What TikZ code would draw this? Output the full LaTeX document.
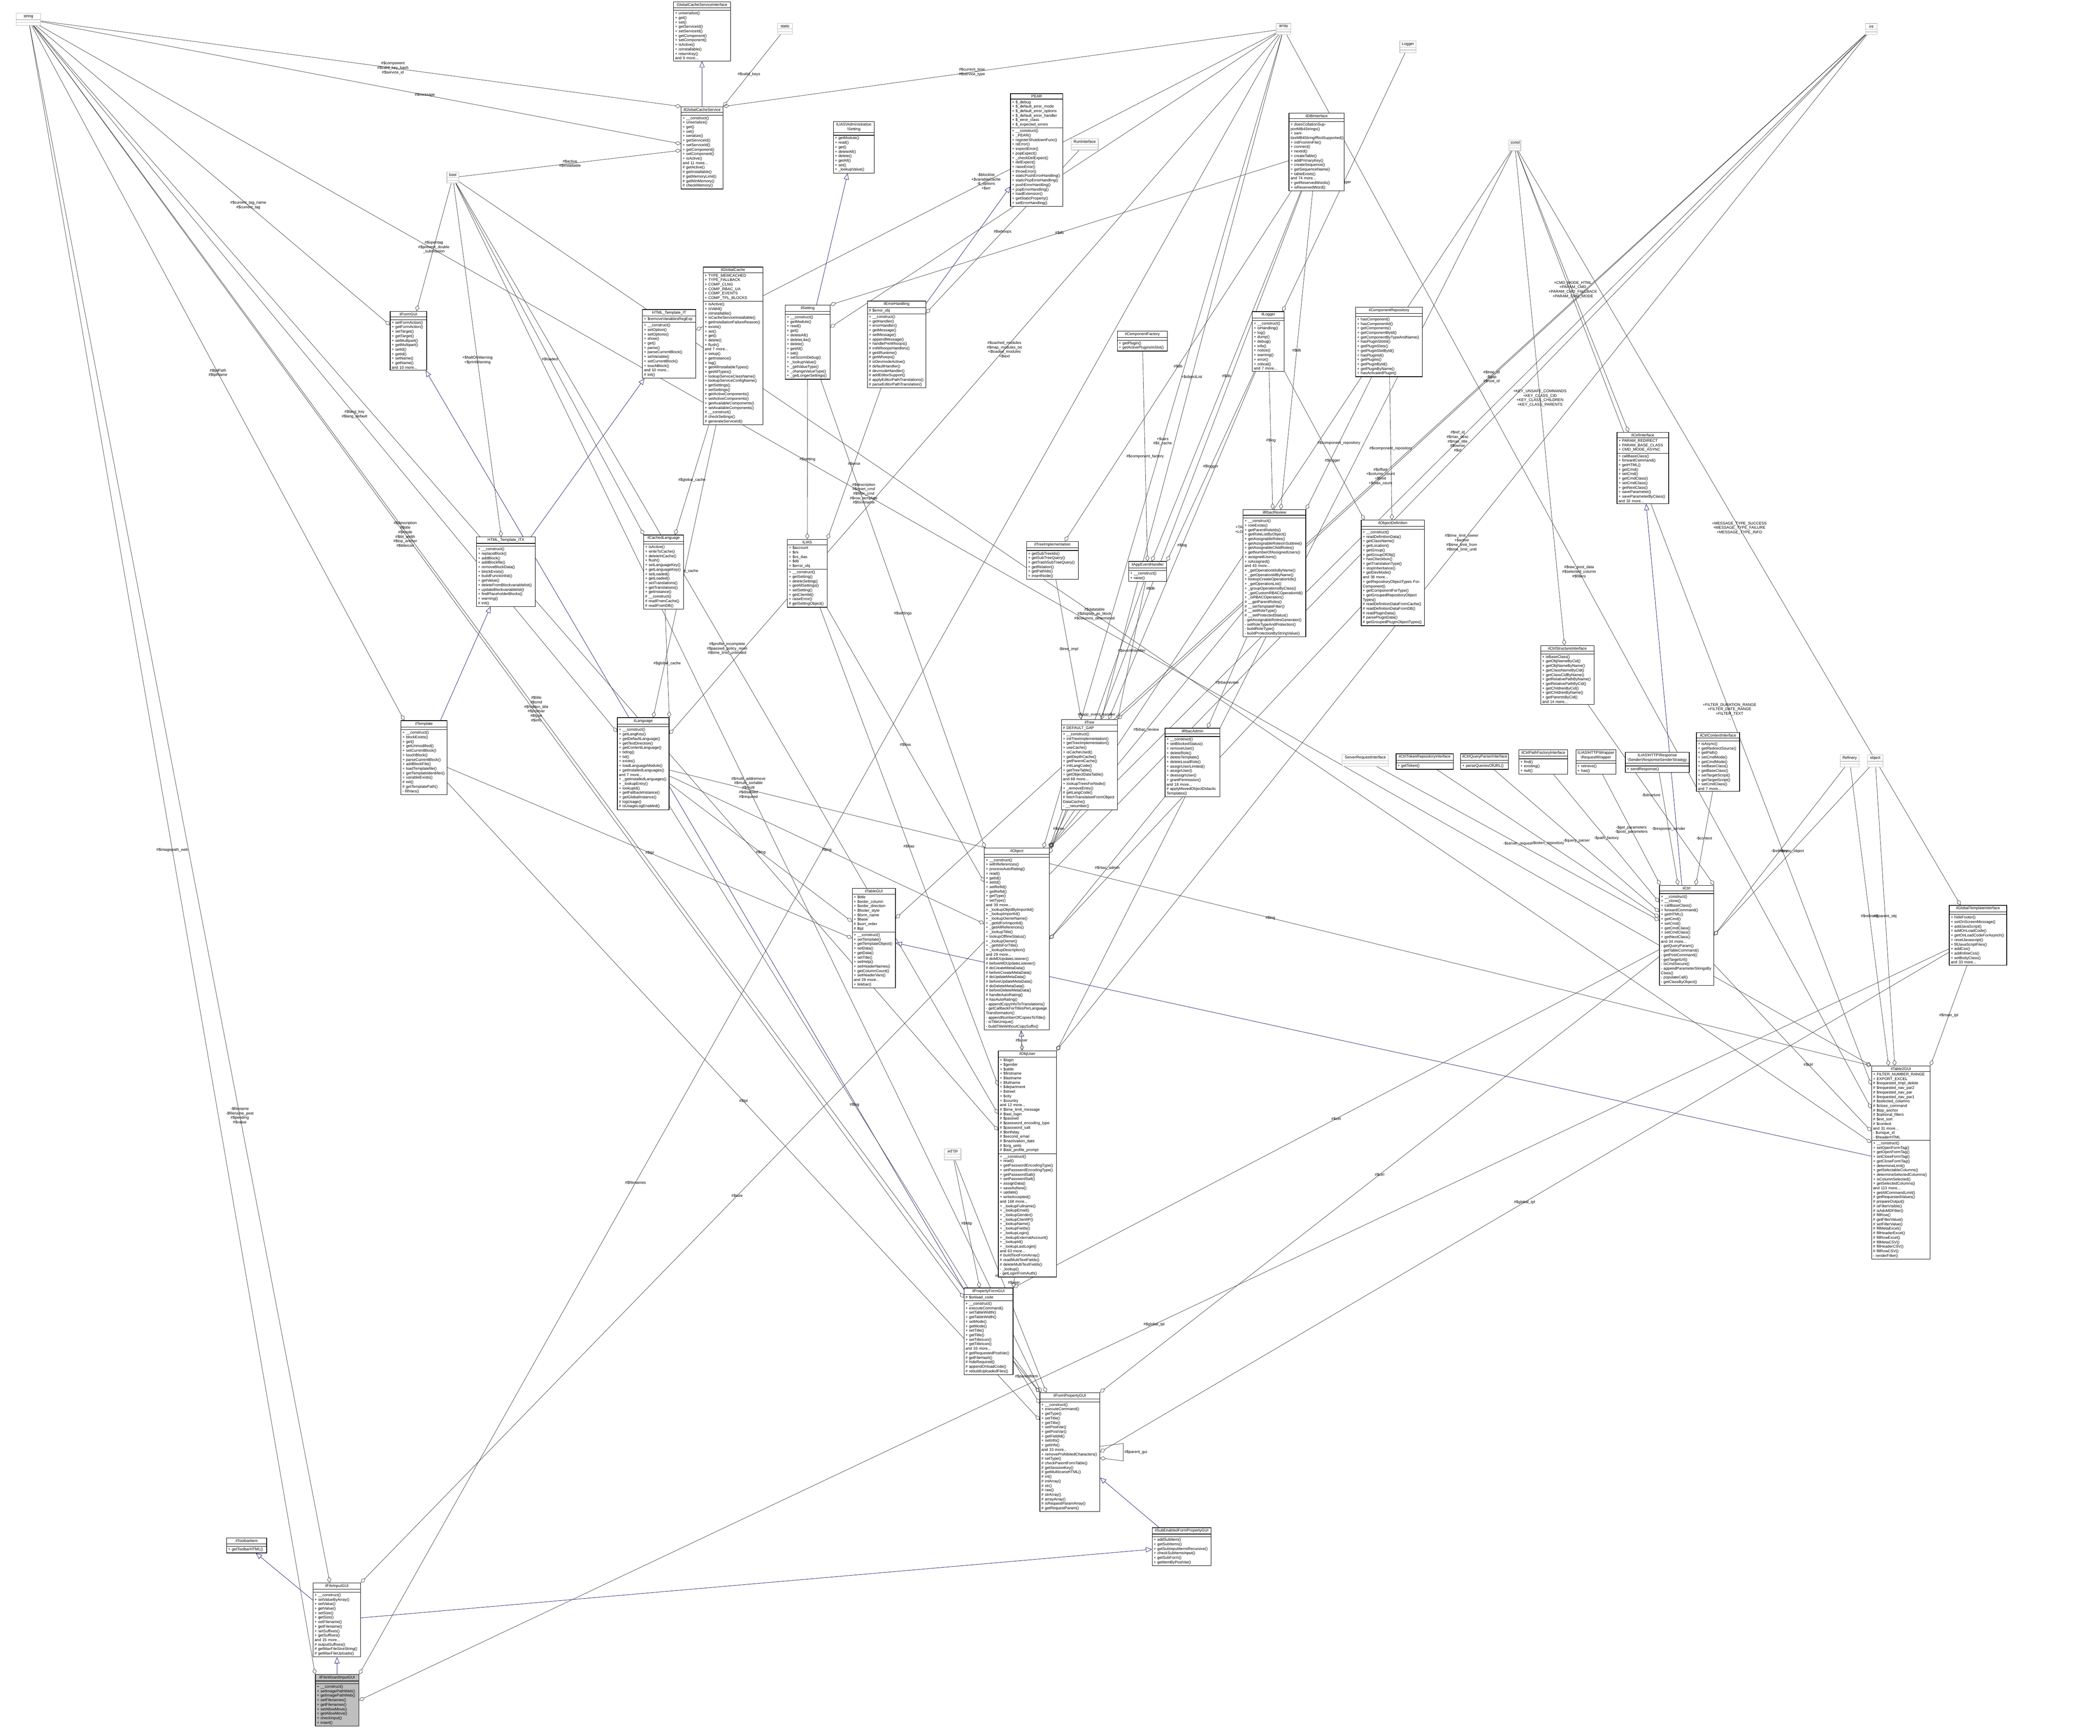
\documentclass[tikz,border=0pt]{standalone}
\usepackage{fontspec}
\setmainfont{Liberation Sans}
\usetikzlibrary{shapes.multipart,arrows.meta}
\pgfdeclarelayer{background}
\pgfsetlayers{background,main}
\definecolor{edgegray}{HTML}{404040}
\definecolor{inhblue}{HTML}{191970}
\definecolor{primgray}{HTML}{BFBFBF}
\tikzset{
  cls/.style={rectangle split, rectangle split parts=3, draw=black, fill=white,
    font=\fontsize{3.8}{4.4}\selectfont, align=left, inner xsep=1.5pt, inner ysep=1.1pt,
    anchor=north west, line width=0.5pt},
  curcls/.style={cls, fill=black!25},
  prim/.style={cls, draw=primgray},
  use/.style={draw=edgegray, line width=0.35pt, -{Diamond[open,length=6pt,width=4pt]}},
  inh/.style={draw=inhblue, line width=0.35pt, -{Triangle[open,length=6pt,width=5pt]}},
  lbl/.style={font=\fontsize{3.8}{4.4}\selectfont, align=center, fill=none, inner sep=1pt}
}
\newcommand{\ttl}[1]{{\centering #1\par}}
\begin{document}
\begin{tikzpicture}
\useasboundingbox (0,0) rectangle (72.17,-59.67);

% primitive types
\node[prim, text width=0.73cm] (string) at (0.55,-0.45) {\nodepart{one}\ttl{string}\nodepart{two}\mbox{}\nodepart{three}\mbox{}};
\node[prim, text width=0.40cm] (static) at (26.72,-0.79) {\nodepart{one}\ttl{static}\nodepart{two}\mbox{}\nodepart{three}\mbox{}};
\node[prim, text width=0.40cm] (array) at (43.85,-0.80) {\nodepart{one}\ttl{array}\nodepart{two}\mbox{}\nodepart{three}\mbox{}};
\node[prim, text width=0.30cm] (int) at (64.10,-0.80) {\nodepart{one}\ttl{int}\nodepart{two}\mbox{}\nodepart{three}\mbox{}};
\node[prim, text width=0.30cm] (bool) at (15.35,-5.90) {\nodepart{one}\ttl{bool}\nodepart{two}\mbox{}\nodepart{three}\mbox{}};
\node[prim, text width=0.30cm] (const) at (51.85,-4.80) {\nodepart{one}\ttl{const}\nodepart{two}\mbox{}\nodepart{three}\mbox{}};
\node[prim, text width=0.45cm] (Logger) at (48.10,-1.40) {\nodepart{one}\ttl{Logger}\nodepart{two}\mbox{}\nodepart{three}\mbox{}};
\node[prim, text width=0.83cm] (RunInterface) at (36.80,-4.76) {\nodepart{one}\ttl{RunInterface}\nodepart{two}\mbox{}\nodepart{three}\mbox{}};
\node[prim, text width=0.46cm] (HTTP) at (32.45,-39.48) {\nodepart{one}\ttl{HTTP}\nodepart{two}\mbox{}\nodepart{three}\mbox{}};
\node[prim, text width=1.48cm] (ServerRequestInterface) at (46.12,-25.92) {\nodepart{one}\ttl{ServerRequestInterface}\nodepart{two}\mbox{}\nodepart{three}\mbox{}};
\node[prim, text width=0.55cm] (Refinery) at (63.23,-25.94) {\nodepart{one}\ttl{Refinery}\nodepart{two}\mbox{}\nodepart{three}\mbox{}};
\node[prim, text width=0.43cm] (object) at (64.17,-25.94) {\nodepart{one}\ttl{object}\nodepart{two}\mbox{}\nodepart{three}\mbox{}};

% top row classes
\node[cls, text width=1.85cm] (GlobalCacheServiceInterface) at (23.14,-0.06) {\nodepart{one}\ttl{GlobalCacheServiceInterface}\nodepart{two}\mbox{}\nodepart{three}+ unserialize()\\+ get()\\+ set()\\+ getServiceId()\\+ setServiceId()\\+ getComponent()\\+ setComponent()\\+ isActive()\\+ isInstallable()\\+ returnKey()\\and 9 more...};
\node[cls, text width=1.33cm] (ilGlobalCacheService) at (23.40,-3.66) {\nodepart{one}\ttl{ilGlobalCacheService}\nodepart{two}\mbox{}\nodepart{three}+ \_\_construct()\\+ unserialize()\\+ get()\\+ set()\\+ serialize()\\+ getServiceId()\\+ setServiceId()\\+ getComponent()\\+ setComponent()\\+ isActive()\\and 11 more...\\\# getActive()\\\# getInstallable()\\\# getMemoryLimit()\\\# getMinMemory()\\\# checkMemory()};
\node[cls, text width=1.30cm] (Setting) at (28.63,-4.17) {\nodepart{one}\ttl{ILIAS\textbackslash Administration\\\textbackslash Setting}\nodepart{two}\mbox{}\nodepart{three}+ getModule()\\+ read()\\+ get()\\+ deleteAll()\\+ delete()\\+ getAll()\\+ set()\\+ \_lookupValue()};
\node[cls, text width=1.69cm] (PEAR) at (34.72,-3.21) {\nodepart{one}\ttl{PEAR}\nodepart{two}+ \$\_debug\\+ \$\_default\_error\_mode\\+ \$\_default\_error\_options\\+ \$\_default\_error\_handler\\+ \$\_error\_class\\+ \$\_expected\_errors\nodepart{three}+ \_\_construct()\\+ \_PEAR()\\+ registerShutdownFunc()\\+ isError()\\+ expectError()\\+ popExpect()\\+ \_checkDelExpect()\\+ delExpect()\\+ raiseError()\\+ throwError()\\+ staticPushErrorHandling()\\+ staticPopErrorHandling()\\+ pushErrorHandling()\\+ popErrorHandling()\\+ loadExtension()\\+ getStaticProperty()\\+ setErrorHandling()};
\node[cls, text width=1.79cm] (ilDBInterface) at (44.29,-3.88) {\nodepart{one}\ttl{ilDBInterface}\nodepart{two}\mbox{}\nodepart{three}+ doesCollationSupportMB4Strings()\\+ sanitizeMB4StringIfNotSupported()\\+ initFromIniFile()\\+ connect()\\+ nextId()\\+ createTable()\\+ addPrimaryKey()\\+ createSequence()\\+ getSequenceName()\\+ tableExists()\\and 74 more...\\+ getReservedWords()\\+ isReservedWord()};

% second row
\node[cls, text width=1.15cm] (ilFormGUI) at (13.40,-10.69) {\nodepart{one}\ttl{ilFormGUI}\nodepart{two}\mbox{}\nodepart{three}+ setFormAction()\\+ getFormAction()\\+ setTarget()\\+ getTarget()\\+ setMultipart()\\+ getMultipart()\\+ setId()\\+ getId()\\+ setName()\\+ getName()\\and 10 more...};
\node[cls, text width=1.73cm] (HTML_Template_IT) at (22.07,-10.63) {\nodepart{one}\ttl{HTML\_Template\_IT}\nodepart{two}+ \$removeVariablesRegExp\nodepart{three}+ \_\_construct()\\+ setOption()\\+ setOptions()\\+ show()\\+ get()\\+ parse()\\+ parseCurrentBlock()\\+ setVariable()\\+ setCurrentBlock()\\+ touchBlock()\\and 10 more...\\\# init()};
\node[cls, text width=1.94cm] (ilGlobalCache) at (24.16,-9.17) {\nodepart{one}\ttl{ilGlobalCache}\nodepart{two}+ TYPE\_MEMCACHED\\+ TYPE\_FALLBACK\\+ COMP\_CLNG\\+ COMP\_RBAC\_UA\\+ COMP\_EVENTS\\+ COMP\_TPL\_BLOCKS\nodepart{three}+ isActive()\\+ isValid()\\+ isInstallable()\\+ isCacheServiceInstallable()\\+ getInstallationFailureReason()\\+ exists()\\+ set()\\+ get()\\+ delete()\\+ flush()\\and 7 more...\\+ setup()\\+ getInstance()\\+ log()\\+ getAllInstallableTypes()\\+ getAllTypes()\\+ lookupServiceClassName()\\+ lookupServiceConfigName()\\+ getSettings()\\+ setSettings()\\+ getActiveComponents()\\+ setActiveComponents()\\+ getAvailableComponents()\\+ setAvailableComponents()\\\# \_\_construct()\\\# checkSettings()\\\# generateServiceId()};
\node[cls, text width=1.43cm] (ilSetting) at (26.98,-10.48) {\nodepart{one}\ttl{ilSetting}\nodepart{two}\mbox{}\nodepart{three}+ \_\_construct()\\+ getModule()\\+ read()\\+ get()\\+ deleteAll()\\+ deleteLike()\\+ delete()\\+ getAll()\\+ set()\\+ setScormDebug()\\+ \_lookupValue()\\+ \_getValueType()\\+ \_changeValueType()\\+ \_getLongerSettings()};
\node[cls, text width=1.90cm] (ilErrorHandling) at (29.80,-10.34) {\nodepart{one}\ttl{ilErrorHandling}\nodepart{two}\# \$error\_obj\nodepart{three}+ \_\_construct()\\+ getHandler()\\+ errorHandler()\\+ getMessage()\\+ setMessage()\\+ appendMessage()\\+ handlePreWhoops()\\\# initWhoopsHandlers()\\\# getIlRuntime()\\\# getWhoops()\\\# isDevmodeActive()\\\# defaultHandler()\\\# devmodeHandler()\\\# addEditorSupport()\\\# applyEditorPathTranslations()\\\# parseEditorPathTranslation()};
\node[cls, text width=1.62cm] (ilComponentFactory) at (38.39,-11.37) {\nodepart{one}\ttl{ilComponentFactory}\nodepart{two}\mbox{}\nodepart{three}+ getPlugin()\\+ getActivePluginsInSlot()};
\node[cls, text width=0.99cm] (ilLogger) at (43.03,-10.70) {\nodepart{one}\ttl{ilLogger}\nodepart{two}\mbox{}\nodepart{three}+ \_\_construct()\\+ isHandling()\\+ log()\\+ dump()\\+ debug()\\+ info()\\+ notice()\\+ warning()\\+ error()\\+ critical()\\and 7 more...};
\node[cls, text width=2.19cm] (ilComponentRepository) at (46.58,-10.55) {\nodepart{one}\ttl{ilComponentRepository}\nodepart{two}\mbox{}\nodepart{three}+ hasComponent()\\+ hasComponentId()\\+ getComponents()\\+ getComponentById()\\+ getComponentByTypeAndName()\\+ hasPluginSlotId()\\+ getPluginSlots()\\+ getPluginSlotById()\\+ hasPluginId()\\+ getPlugins()\\+ getPluginById()\\+ getPluginByName()\\+ hasActivatedPlugin()};
\node[cls, text width=1.67cm] (ilCtrlInterface) at (55.56,-14.85) {\nodepart{one}\ttl{ilCtrlInterface}\nodepart{two}+ PARAM\_REDIRECT\\+ PARAM\_BASE\_CLASS\\+ CMD\_MODE\_ASYNC\nodepart{three}+ callBaseClass()\\+ forwardCommand()\\+ getHTML()\\+ getCmd()\\+ setCmd()\\+ getCmdClass()\\+ setCmdClass()\\+ getNextClass()\\+ saveParameter()\\+ saveParameterByClass()\\and 32 more...};

% third row
\node[cls, text width=1.91cm] (HTML_Template_ITX) at (16.37,-18.45) {\nodepart{one}\ttl{HTML\_Template\_ITX}\nodepart{two}\mbox{}\nodepart{three}+ \_\_construct()\\+ replaceBlock()\\+ addBlock()\\+ addBlockfile()\\+ removeBlockData()\\+ blockExists()\\+ buildFunctionlist()\\+ getValue()\\+ deleteFromBlockvariablelist()\\+ updateBlockvariablelist()\\+ findPlaceholderBlocks()\\+ warning()\\\# init()};
\node[cls, text width=1.27cm] (ilCachedLanguage) at (22.11,-18.38) {\nodepart{one}\ttl{ilCachedLanguage}\nodepart{two}\mbox{}\nodepart{three}+ isActive()\\+ writeToCache()\\+ deleteInCache()\\+ flush()\\+ setLanguageKey()\\+ getLanguageKey()\\+ setLoaded()\\+ getLoaded()\\+ setTranslations()\\+ getTranslations()\\+ getInstance()\\\# \_\_construct()\\\# readFromCache()\\\# readFromDB()};
\node[cls, text width=1.26cm] (ILIAS) at (27.05,-18.53) {\nodepart{one}\ttl{ILIAS}\nodepart{two}+ \$account\\+ \$ini\\+ \$ini\_ilias\\+ \$db\\+ \$error\_obj\nodepart{three}+ \_\_construct()\\+ getSetting()\\+ deleteSetting()\\+ getAllSettings()\\+ setSetting()\\+ getClientId()\\+ raiseError()\\\# getSettingObject()};
\node[cls, text width=1.67cm] (ilTreeImplementation) at (35.27,-18.60) {\nodepart{one}\ttl{ilTreeImplementation}\nodepart{two}\mbox{}\nodepart{three}+ getSubTreeIds()\\+ getSubTreeQuery()\\+ getTrashSubTreeQuery()\\+ getRelation()\\+ getPathIds()\\+ insertNode()};
\node[cls, text width=1.20cm] (ilAppEventHandler) at (38.78,-19.29) {\nodepart{one}\ttl{ilAppEventHandler}\nodepart{two}\mbox{}\nodepart{three}+ \_\_construct()\\+ raise()};
\node[cls, text width=2.05cm] (ilRbacReview) at (42.71,-17.51) {\nodepart{one}\ttl{ilRbacReview}\nodepart{two}\mbox{}\nodepart{three}+ \_\_construct()\\+ roleExists()\\+ getParentRoleIds()\\+ getRoleListByObject()\\+ getAssignableRoles()\\+ getAssignableRolesInSubtree()\\+ getAssignableChildRoles()\\+ getNumberOfAssignedUsers()\\+ assignedUsers()\\+ isAssigned()\\and 43 more...\\+ \_getOperationIdsByName()\\+ \_getOperationIdByName()\\+ lookupCreateOperationIds()\\+ \_getOperationList()\\+ \_groupOperationsByClass()\\+ \_getCustomRBACOperationId()\\+ \_isRBACOperation()\\\# \_\_getParentRoles()\\\# \_\_setTemplateFilter()\\\# \_\_setRoleType()\\\# \_\_setProtectedStatus()\\- getAssignableRolesGenerator()\\- setRoleTypeAndProtection()\\- buildRoleType()\\- buildProtectionByStringValue()};
\node[cls, text width=2.07cm] (ilObjectDefinition) at (46.77,-17.87) {\nodepart{one}\ttl{ilObjectDefinition}\nodepart{two}\mbox{}\nodepart{three}+ \_\_construct()\\+ readDefinitionData()\\+ getClassName()\\+ getLocation()\\+ getGroup()\\+ getGroupOfObj()\\+ hasCheckbox()\\+ getTranslationType()\\+ stopInheritance()\\+ getDevMode()\\and 38 more...\\+ getRepositoryObjectTypes ForComponent()\\+ getComponentForType()\\+ getGroupedRepositoryObject Types()\\\# readDefinitionDataFromCache()\\\# readDefinitionDataFromDB()\\\# readPluginData()\\\# parsePluginData()\\\# getGroupedPluginObjectTypes()};
\node[cls, text width=1.73cm] (ilCtrlStructureInterface) at (52.94,-22.18) {\nodepart{one}\ttl{ilCtrlStructureInterface}\nodepart{two}\mbox{}\nodepart{three}+ isBaseClass()\\+ getObjNameByCid()\\+ getObjNameByName()\\+ getClassNameByCid()\\+ getClassCidByName()\\+ getRelativePathByName()\\+ getRelativePathByCid()\\+ getChildrenByCid()\\+ getChildrenByName()\\+ getParentsByCid()\\and 14 more...};

% fourth row
\node[cls, text width=1.48cm] (ilTemplate) at (13.77,-24.76) {\nodepart{one}\ttl{ilTemplate}\nodepart{two}\mbox{}\nodepart{three}+ \_\_construct()\\+ blockExists()\\+ get()\\+ getUnmodified()\\+ setCurrentBlock()\\+ touchBlock()\\+ parseCurrentBlock()\\+ addBlockFile()\\+ loadTemplatefile()\\+ getTemplateIdentifier()\\+ variableExists()\\\# init()\\\# getTemplatePath()\\- fillVars()};
\node[cls, text width=1.67cm] (ilLanguage) at (21.21,-24.66) {\nodepart{one}\ttl{ilLanguage}\nodepart{two}\mbox{}\nodepart{three}+ \_\_construct()\\+ getLangKey()\\+ getDefaultLanguage()\\+ getTextDirection()\\+ getContentLanguage()\\+ txtlng()\\+ txt()\\+ exists()\\+ loadLanguageModule()\\+ getInstalledLanguages()\\and 7 more...\\+ \_getInstalledLanguages()\\+ \_lookupEntry()\\+ lookupId()\\+ getFallbackInstance()\\+ getGlobalInstance()\\\# logUsage()\\\# isUsageLogEnabled()};
\node[cls, text width=1.82cm] (ilTree) at (36.47,-24.72) {\nodepart{one}\ttl{ilTree}\nodepart{two}\# DEFAULT\_GAP\nodepart{three}+ \_\_construct()\\+ initTreeImplementation()\\+ getTreeImplementation()\\+ useCache()\\+ isCacheUsed()\\+ getDepthCache()\\+ getParentCache()\\+ initLangCode()\\+ getTreeTable()\\+ getObjectDataTable()\\and 69 more...\\+ lookupTreesForNode()\\+ \_removeEntry()\\\# getLangCode()\\\# fetchTranslationFromObject DataCache()\\- \_\_renumber()};
\node[cls, text width=1.78cm] (ilRbacAdmin) at (40.03,-25.02) {\nodepart{one}\ttl{ilRbacAdmin}\nodepart{two}\mbox{}\nodepart{three}+ \_\_construct()\\+ setBlockedStatus()\\+ removeUser()\\+ deleteRole()\\+ deleteTemplate()\\+ deleteLocalRole()\\+ assignUserLimited()\\+ assignUser()\\+ deassignUser()\\+ grantPermission()\\and 18 more...\\\# applyMovedObjectDidactic Templates()};
\node[cls, text width=1.86cm] (ilCtrlTokenRepositoryInterface) at (47.97,-25.90) {\nodepart{one}\ttl{ilCtrlTokenRepositoryInterface}\nodepart{two}\mbox{}\nodepart{three}+ getToken()};
\node[cls, text width=1.54cm] (ilCtrlQueryParserInterface) at (50.19,-25.90) {\nodepart{one}\ttl{ilCtrlQueryParserInterface}\nodepart{two}\mbox{}\nodepart{three}+ parseQueriesOfURL()};
\node[cls, text width=1.57cm] (ilCtrlPathFactoryInterface) at (52.19,-25.76) {\nodepart{one}\ttl{ilCtrlPathFactoryInterface}\nodepart{two}\mbox{}\nodepart{three}+ find()\\+ existing()\\+ null()};
\node[cls, text width=1.27cm] (RequestWrapper) at (54.15,-25.76) {\nodepart{one}\ttl{ILIAS\textbackslash HTTP\textbackslash Wrapper\\\textbackslash RequestWrapper}\nodepart{two}\mbox{}\nodepart{three}+ retrieve()\\+ has()};
\node[cls, text width=2.09cm] (ResponseSenderStrategy) at (55.85,-25.85) {\nodepart{one}\ttl{ILIAS\textbackslash HTTP\textbackslash Response\\\textbackslash Sender\textbackslash ResponseSenderStrategy}\nodepart{two}\mbox{}\nodepart{three}+ sendResponse()};
\node[cls, text width=1.38cm] (ilCtrlContextInterface) at (58.29,-25.17) {\nodepart{one}\ttl{ilCtrlContextInterface}\nodepart{two}\mbox{}\nodepart{three}+ isAsync()\\+ getRedirectSource()\\+ getPath()\\+ setCmdMode()\\+ getCmdMode()\\+ setBaseClass()\\+ getBaseClass()\\+ setTargetScript()\\+ getTargetScript()\\+ setCmdClass()\\and 7 more...};

% fifth row
\node[cls, text width=2.13cm] (ilObject) at (33.82,-29.14) {\nodepart{one}\ttl{ilObject}\nodepart{two}\mbox{}\nodepart{three}+ \_\_construct()\\+ withReferences()\\+ processAutoRating()\\+ read()\\+ getId()\\+ setId()\\+ setRefId()\\+ getRefId()\\+ getType()\\+ setType()\\and 39 more...\\+ \_lookupObjIdByImportId()\\+ \_lookupImportId()\\+ \_lookupOwnerName()\\+ \_getIdForImportId()\\+ \_getAllReferences()\\+ \_lookupTitle()\\+ lookupOfflineStatus()\\+ \_lookupOwner()\\+ \_getIdsForTitle()\\+ \_lookupDescription()\\and 29 more...\\\# doMDUpdateListener()\\\# beforeMDUpdateListener()\\\# doCreateMetaData()\\\# beforeCreateMetaData()\\\# doUpdateMetaData()\\\# beforeUpdateMetaData()\\\# doDeleteMetaData()\\\# beforeDeleteMetaData()\\\# handleAutoRating()\\\# hasAutoRating()\\- appendCopyInfoToTranslations()\\- getCallbackForTitlesPerLanguage Transformation()\\- appendNumberOfCopiesToTitle()\\- isTitleUnique()\\- buildTitleWithoutCopySuffix()};
\node[cls, text width=1.38cm] (ilTableGUI) at (29.28,-30.53) {\nodepart{one}\ttl{ilTableGUI}\nodepart{two}+ \$title\\+ \$order\_column\\+ \$order\_direction\\+ \$footer\_style\\+ \$form\_name\\+ \$base\\\# \$sort\_order\\\# \$tpl\nodepart{three}+ \_\_construct()\\+ setTemplate()\\+ getTemplateObject()\\+ setData()\\+ getData()\\+ setTitle()\\+ setHelp()\\+ setHeaderNames()\\+ getColumnCount()\\+ setHeaderVars()\\and 29 more...\\+ linkbar()};
\node[cls, text width=1.76cm] (ilCtrl) at (57.02,-30.42) {\nodepart{one}\ttl{ilCtrl}\nodepart{two}\mbox{}\nodepart{three}+ \_\_construct()\\+ \_\_clone()\\+ callBaseClass()\\+ forwardCommand()\\+ getHTML()\\+ getCmd()\\+ setCmd()\\+ getCmdClass()\\+ setCmdClass()\\+ getNextClass()\\and 34 more...\\- getQueryParam()\\- getTableCommand()\\- getPostCommand()\\- getTargetUrl()\\- isCmdSecure()\\- appendParameterStringsBy Class()\\- populateCall()\\- getClassByObject()};
\node[cls, text width=1.87cm] (ilGlobalTemplateInterface) at (66.98,-31.11) {\nodepart{one}\ttl{ilGlobalTemplateInterface}\nodepart{two}\mbox{}\nodepart{three}+ hideFooter()\\+ setOnScreenMessage()\\+ addJavaScript()\\+ addOnLoadCode()\\+ getOnLoadCodeForAsynch()\\+ resetJavascript()\\+ fillJavaScriptFiles()\\+ addCss()\\+ addInlineCss()\\+ setBodyClass()\\and 33 more...};
\node[cls, text width=1.89cm] (ilObjUser) at (34.30,-36.11) {\nodepart{one}\ttl{ilObjUser}\nodepart{two}+ \$login\\+ \$gender\\+ \$utitle\\+ \$firstname\\+ \$lastname\\+ \$fullname\\+ \$department\\+ \$street\\+ \$city\\+ \$country\\and 12 more...\\\# \$time\_limit\_message\\\# \$last\_login\\\# \$passwd\\\# \$password\_encoding\_type\\\# \$password\_salt\\\# \$birthday\\\# \$second\_email\\\# \$inactivation\_date\\\# \$org\_units\\\# \$last\_profile\_prompt\nodepart{three}+ \_\_construct()\\+ read()\\+ getPasswordEncodingType()\\+ setPasswordEncodingType()\\+ getPasswordSalt()\\+ setPasswordSalt()\\+ assignData()\\+ saveAsNew()\\+ update()\\+ writeAccepted()\\and 168 more...\\+ \_lookupFullname()\\+ \_lookupEmail()\\+ \_lookupGender()\\+ \_lookupClientIP()\\+ \_lookupName()\\+ \_lookupFields()\\+ \_lookupLogin()\\+ \_lookupExternalAccount()\\+ \_lookupId()\\+ \_lookupLastLogin()\\and 63 more...\\\# buildTextFromArray()\\\# readMultiTextFields()\\\# deleteMultiTextFields()\\- \_lookup()\\- getLoginFromAuth()};
\node[cls, text width=1.91cm] (ilTable2GUI) at (64.31,-36.63) {\nodepart{one}\ttl{ilTable2GUI}\nodepart{two}+ FILTER\_NUMBER\_RANGE\\+ EXPORT\_EXCEL\\\# \$requested\_tmpl\_delete\\\# \$requested\_nav\_par2\\\# \$requested\_nav\_par\\\# \$requested\_nav\_par1\\\# \$selected\_columns\\\# \$close\_command\\\# \$top\_anchor\\\# \$optional\_filters\\\# \$ext\_sort\\\# \$context\\and 31 more...\\- \$unique\_id\\- \$headerHTML\nodepart{three}+ \_\_construct()\\+ setOpenFormTag()\\+ getOpenFormTag()\\+ setCloseFormTag()\\+ getCloseFormTag()\\+ determineLimit()\\+ getSelectableColumns()\\+ determineSelectedColumns()\\+ isColumnSelected()\\+ getSelectedColumns()\\and 113 more...\\+ getAllCommandLimit()\\\# getRequestedValues()\\\# prepareOutput()\\\# isFilterVisible()\\\# isAdvMDFilter()\\\# fillRow()\\\# getFilterValue()\\\# setFilterValue()\\\# fillMetaExcel()\\\# fillHeaderExcel()\\\# fillRowExcel()\\\# fillMetaCSV()\\\# fillHeaderCSV()\\\# fillRowCSV()\\- renderFilter()};

% form classes
\node[cls, text width=1.58cm] (ilPropertyFormGUI) at (33.12,-44.26) {\nodepart{one}\ttl{ilPropertyFormGUI}\nodepart{two}\# \$onload\_code\nodepart{three}+ \_\_construct()\\+ executeCommand()\\+ setTableWidth()\\+ getTableWidth()\\+ setMode()\\+ getMode()\\+ setTitle()\\+ getTitle()\\+ setTitleIcon()\\+ getTitleIcon()\\and 33 more...\\\# getRequestedPostVar()\\\# getFileHash()\\\# hideRequired()\\\# appendOnloadCode()\\\# rebuildUploadedFiles()};
\node[cls, text width=1.95cm] (ilFormPropertyGUI) at (35.73,-47.86) {\nodepart{one}\ttl{ilFormPropertyGUI}\nodepart{two}\mbox{}\nodepart{three}+ \_\_construct()\\+ executeCommand()\\+ getType()\\+ setTitle()\\+ getTitle()\\+ setPostVar()\\+ getPostVar()\\+ getFieldId()\\+ setInfo()\\+ getInfo()\\and 33 more...\\+ removeProhibitedCharacters()\\\# setType()\\\# checkParentFormTable()\\\# getSessionKey()\\\# getMultiIconsHTML()\\\# int()\\\# intArray()\\\# str()\\\# raw()\\\# strArray()\\\# arrayArray()\\\# isRequestParamArray()\\\# getRequestParam()};
\node[cls, text width=1.92cm] (ilSubEnabledFormPropertyGUI) at (39.59,-52.50) {\nodepart{one}\ttl{ilSubEnabledFormPropertyGUI}\nodepart{two}\mbox{}\nodepart{three}+ addSubItem()\\+ getSubItems()\\+ getSubInputItemsRecursive()\\+ checkSubItemsInput()\\+ getSubForm()\\+ getItemByPostVar()};
\node[cls, text width=1.27cm] (ilToolbarItem) at (7.78,-52.86) {\nodepart{one}\ttl{ilToolbarItem}\nodepart{two}\mbox{}\nodepart{three}+ getToolbarHTML()};
\node[cls, text width=1.53cm] (ilFileInputGUI) at (10.75,-54.40) {\nodepart{one}\ttl{ilFileInputGUI}\nodepart{two}\mbox{}\nodepart{three}+ \_\_construct()\\+ setValueByArray()\\+ setValue()\\+ getValue()\\+ setSize()\\+ getSize()\\+ setFilename()\\+ getFilename()\\+ setSuffixes()\\+ getSuffixes()\\and 15 more...\\\# outputSuffixes()\\\# getMaxFileSizeString()\\\# getMaxFileUploads()};
\node[curcls, text width=1.39cm] (ilFileWizardInputGUI) at (10.83,-57.55) {\nodepart{one}\ttl{ilFileWizardInputGUI}\nodepart{two}\mbox{}\nodepart{three}+ \_\_construct()\\+ setImagePathWeb()\\+ getImagePathWeb()\\+ setFilenames()\\+ getFilenames()\\+ setAllowMove()\\+ getAllowMove()\\+ checkInput()\\+ insert()};

\begin{pgfonlayer}{background}
% inheritance
\draw[inh] (ilGlobalCacheService) -- (GlobalCacheServiceInterface);
\draw[inh] (ilSetting) -- (Setting);
\draw[inh] (ilErrorHandling) -- (PEAR);
\draw[inh] (HTML_Template_ITX) -- (HTML_Template_IT);
\draw[inh] (ilTemplate) -- (HTML_Template_ITX);
\draw[inh] (ilPropertyFormGUI) -- (ilFormGUI);
\draw[inh] (ilObjUser) -- (ilObject);
\draw[inh] (ilTable2GUI) -- (ilTableGUI);
\draw[inh] (ilCtrl) -- (ilCtrlInterface);
\draw[inh] (ilSubEnabledFormPropertyGUI) -- (ilFormPropertyGUI);
\draw[inh] (ilFileInputGUI) -- (ilSubEnabledFormPropertyGUI);
\draw[inh] (ilFileInputGUI) -- (ilToolbarItem);
\draw[inh] (ilFileWizardInputGUI) -- (ilFileInputGUI);

% aggregations
\draw[use] (string) -- node[lbl, pos=0.5]{\#\$imagepath\_web} (ilFileWizardInputGUI.north west);
\draw[use] (string) -- node[lbl, pos=0.7]{-\$filename\\-\$filename\_post\\\#\$pending\\\#\$value} (ilFileInputGUI);
\draw[use] (string) -- node[lbl, pos=0.5]{\#\$title\\\#\$cmd\\\#\$hidden\_title\\\#\$postvar\\\#\$type\\\#\$info} (ilFormPropertyGUI.north west);
\draw[use] (string) -- node[lbl, pos=0.4]{\#\$description\\\#\$title\\\#\$mode\\\#\$tbl\_width\\\#\$top\_anchor\\\#\$titleicon} (ilPropertyFormGUI);
\draw[use] (string) -- node[lbl, pos=0.45]{\#\$description\\\#\$reset\_cmd\\\#\$filter\_cmd\\\#\$row\_template\\\#\$formname} (ilTable2GUI.north west);
\draw[use] (string) -- node[lbl, pos=0.5]{\#\$ext\_account\\+\$email\\+\$phone\_office\\+\$institution} (ilObjUser);
\draw[use] (string) -- node[lbl, pos=0.6]{\#\$current\_tag\_name\\\#\$current\_tag} (ilFormGUI);
\draw[use] (string) -- node[lbl, pos=0.55]{\#\$component\\\#\$valid\_key\_hash\\\#\$service\_id} (ilGlobalCacheService.north west);
\draw[use] (string) -- node[lbl, pos=0.6]{\#\$message} (ilGlobalCacheService);
\draw[use] (string) -- node[lbl, pos=0.5]{\#\$tplPath\\\#\$tplName} (ilTemplate);
\draw[use] (string) -- node[lbl, pos=0.55]{\#\$lang\_key\\\#\$lang\_default} (ilLanguage);
\draw[use] (static) -- node[lbl, pos=0.55]{\#\$valid\_keys} (ilGlobalCacheService.north east);
\draw[use] (bool) -- node[lbl, pos=0.5]{\#\$active\\\#\$installable} (ilGlobalCacheService);
\draw[use] (bool) -- node[lbl, pos=0.5]{\#\$opentag\\\#\$prevent\_double\\\_submission} (ilFormGUI);
\draw[use] (bool) -- node[lbl, pos=0.5]{+\$haltOnWarning\\+\$printWarning} (HTML_Template_ITX);
\draw[use] (bool) -- node[lbl, pos=0.5]{\#\$loaded} (ilCachedLanguage);
\draw[use] (bool) -- node[lbl, pos=0.5]{\#\$profile\_incomplete\\\#\$passwd\_policy\_reset\\\#\$time\_limit\_unlimited} (ilObjUser);
\draw[use] (bool) -- node[lbl, pos=0.5]{\#\$multi\_addremove\\\#\$multi\_sortable\\\#\$multi\\\#\$disabled\\\#\$required} (ilFormPropertyGUI);
\draw[use] (bool) -- node[lbl, pos=0.45]{\#\$datatable\\\#\$display\_as\_block\\\#\$columns\_determined} (ilTable2GUI);
\draw[use] (array) -- node[lbl, pos=0.55]{\#\$current\_time\\\#\$service\_type} (ilGlobalCacheService.north east);
\draw[use] (array) -- node[lbl, pos=0.55]{-\$settings\_cache\\-\$value\_type} (ilSetting);
\draw[use] (array) -- node[lbl, pos=0.5]{-\$blocklist\\+\$variableCache\\-\$\_options\\+\$err} (HTML_Template_IT);
\draw[use] (array) -- node[lbl, pos=0.5]{+\$vars\\\#\$il\_cache} (ilObject);
\draw[use] (array) -- node[lbl, pos=0.45]{\#\$cached\_modules\\\#\$map\_modules\_txt\\+\$loaded\_modules\\+\$text} (ilLanguage);
\draw[use] (array) -- node[lbl, pos=0.5]{+\$objectList} (ilTree);
\draw[use] (array) -- node[lbl, pos=0.7]{\#\$filenames} (ilFileWizardInputGUI.north east);
\draw[use] (array) -- node[lbl, pos=0.5]{\#\$raw\_post\_data\\\#\$selected\_column\\\#\$filters} (ilTable2GUI);
\draw[use] (int) -- node[lbl, pos=0.5]{\#\$offset\\+\$column\_count\\+\$limit\\+\$max\_count} (ilTableGUI);
\draw[use] (int) -- node[lbl, pos=0.5]{\#\$ref\_id\\\#\$max\_desc\\\#\$max\_title\\\#\$owner\\\#\$id} (ilObject.north east);
\draw[use] (int) -- node[lbl, pos=0.5]{\#\$tree\_id\\-\$gap\\\#\$root\_id} (ilTree.north east);
\draw[use] (int) -- node[lbl, pos=0.75]{\#\$size} (ilFileInputGUI.north east);
\draw[use] (int) -- node[lbl, pos=0.5]{\#\$time\_limit\_owner\\+\$active\\\#\$time\_limit\_from\\\#\$time\_limit\_until} (ilObjUser.north east);
\draw[use] (const) -- node[lbl, pos=0.5]{+CMD\_MODE\_HTML\\+PARAM\_CMD\\+PARAM\_CMD\_FALLBACK\\+PARAM\_CMD\_MODE\\...} (ilCtrlInterface);
\draw[use] (const) -- node[lbl, pos=0.5]{+KEY\_UNSAFE\_COMMANDS\\+KEY\_CLASS\_CID\\+KEY\_CLASS\_CHILDREN\\+KEY\_CLASS\_PARENTS} (ilCtrlStructureInterface);
\draw[use] (const) -- node[lbl, pos=0.55]{+TABLE\_OBJECT\_DATA\\+LONG\_DESC\_LENGTH\\+TITLE\_LENGTH\\+DESC\_LENGTH} (ilObject.north east);
\draw[use] (const) -- node[lbl, pos=0.6]{+FILTER\_DURATION\_RANGE\\+FILTER\_DATE\_RANGE\\+FILTER\_TEXT\\...} (ilTable2GUI);
\draw[use] (const) -- node[lbl, pos=0.5]{+PASSWD\_CRYPTED\\+PASSWD\_PLAIN} (ilObjUser.north east);
\draw[use] (const) -- node[lbl, pos=0.5]{+MESSAGE\_TYPE\_SUCCESS\\+MESSAGE\_TYPE\_FAILURE\\+MESSAGE\_TYPE\_INFO} (ilGlobalTemplateInterface);
\draw[use] (Logger) -- node[lbl, pos=0.5]{-\$logger} (ilLogger);
\draw[use] (RunInterface) -- node[lbl, pos=0.5]{\#\$whoops} (ilErrorHandling);
\draw[use] (ilDBInterface) -- node[lbl, pos=0.5]{\#\$db} (ilSetting.north east);
\draw[use] (ilDBInterface) -- node[lbl, pos=0.5]{\#\$db} (ilRbacReview);
\draw[use] (ilDBInterface) -- node[lbl, pos=0.5]{\#\$db} (ilTreeImplementation);
\draw[use] (ilDBInterface) -- node[lbl, pos=0.5]{\#\$db} (ilAppEventHandler);
\draw[use] (ilDBInterface) -- node[lbl, pos=0.6]{\#\$db} (ilObject);
\draw[use] (ilGlobalCache) -- node[lbl, pos=0.5]{\#\$global\_cache} (ilCachedLanguage);
\draw[use] (ilGlobalCache) -- node[lbl, pos=0.5]{\#\$global\_cache} (ilLanguage);
\draw[use] (ilSetting) -- node[lbl, pos=0.5]{\#\$setting} (ILIAS);
\draw[use] (ilSetting) -- node[lbl, pos=0.5]{\#\$settings} (ilObject);
\draw[use] (ilErrorHandling) -- node[lbl, pos=0.5]{\#\$error} (ILIAS.north east);
\draw[use] (ilComponentFactory) -- node[lbl, pos=0.5]{\#\$component\_factory} (ilAppEventHandler);
\draw[use] (ilLogger) -- node[lbl, pos=0.5]{\#\$logger} (ilAppEventHandler.north east);
\draw[use] (ilLogger) -- node[lbl, pos=0.5]{\#\$log} (ilRbacReview);
\draw[use] (ilLogger) -- node[lbl, pos=0.6]{\#\$logger} (ilObjectDefinition);
\draw[use] (ilLogger) -- node[lbl, pos=0.5]{\#\$log} (ilTree);
\draw[use] (ilComponentRepository) -- node[lbl, pos=0.5]{\#\$component\_repository} (ilObjectDefinition);
\draw[use] (ilComponentRepository) -- node[lbl, pos=0.5]{\#\$component\_repository} (ilRbacReview.north east);
\draw[use] (ilTreeImplementation) -- node[lbl, pos=0.5]{-\$tree\_impl} (ilTree);
\draw[use] (ilAppEventHandler) -- node[lbl, pos=0.5]{\#\$eventHandler} (ilTree.north east);
\draw[use] (ilRbacReview) -- node[lbl, pos=0.5]{\#\$rbacreview} (ilRbacAdmin);
\draw[use] (ilRbacReview) -- node[lbl, pos=0.5]{\#\$rbac\_review} (ilObject.north east);
\draw[use] (ilAppEventHandler) -- node[lbl, pos=0.5]{\#\$app\_event\_handler} (ilObject);
\draw[use] (ilObjectDefinition) -- node[lbl, pos=0.5]{\#\$obj\_definition} (ilObject.east);
\draw[use] (ilTree) -- node[lbl, pos=0.5]{\#\$tree} (ilObject.north east);
\draw[use] (ilRbacAdmin) -- node[lbl, pos=0.5]{\#\$rbac\_admin} (ilObject.east);
\draw[use] (ilLanguage) -- node[lbl, pos=0.5]{\#\$lng} (ilObject);
\draw[use] (ilLanguage) -- node[lbl, pos=0.5]{\#\$lng} (ilTableGUI);
\draw[use] (ilLanguage) -- node[lbl, pos=0.5]{\#\$lng} (ilFormPropertyGUI);
\draw[use] (ilLanguage) -- node[lbl, pos=0.5]{\#\$lng} (ilTable2GUI.north west);
\draw[use] (ilCachedLanguage) -- node[lbl, pos=0.5]{\#\$global\_cache} (ilLanguage.north east);
\draw[use] (ilTemplate) -- node[lbl, pos=0.5]{\#\$tpl} (ilTableGUI.west);
\draw[use] (ilTemplate) -- node[lbl, pos=0.5]{\#\$tpl} (ilFormPropertyGUI);
\draw[use] (ILIAS) -- node[lbl, pos=0.5]{\#\$ilias} (ilObject);
\draw[use] (ILIAS) -- node[lbl, pos=0.5]{\#\$ilias} (ilObjUser);
\draw[use] (ServerRequestInterface) -- node[lbl, pos=0.5]{-\$server\_request} (ilCtrl);
\draw[use] (ilCtrlTokenRepositoryInterface) -- node[lbl, pos=0.5]{-\$token\_repository} (ilCtrl);
\draw[use] (ilCtrlQueryParserInterface) -- node[lbl, pos=0.5]{-\$query\_parser} (ilCtrl);
\draw[use] (ilCtrlPathFactoryInterface) -- node[lbl, pos=0.5]{-\$path\_factory} (ilCtrl);
\draw[use] (RequestWrapper) -- node[lbl, pos=0.5]{-\$get\_parameters\\-\$post\_parameters} (ilCtrl);
\draw[use] (ResponseSenderStrategy) -- node[lbl, pos=0.5]{-\$response\_sender} (ilCtrl);
\draw[use] (ilCtrlContextInterface) -- node[lbl, pos=0.5]{-\$context} (ilCtrl);
\draw[use] (ilCtrlStructureInterface) -- node[lbl, pos=0.5]{-\$structure} (ilCtrl.north east);
\draw[use] (Refinery) -- node[lbl, pos=0.5]{-\$refinery} (ilCtrl.east);
\draw[use] (object) -- node[lbl, pos=0.5]{-\$exec\_object} (ilCtrl.east);
\draw[use] (ilCtrl) -- node[lbl, pos=0.6]{\#\$ctrl} (ilTable2GUI);
\draw[use] (ilCtrl) -- node[lbl, pos=0.5]{\#\$ctrl} (ilFormPropertyGUI.north east);
\draw[use] (ilCtrl) -- node[lbl, pos=0.5]{\#\$ctrl} (ilPropertyFormGUI.north east);
\draw[use] (Refinery) -- node[lbl, pos=0.5]{\#\$refinery} (ilTable2GUI);
\draw[use] (object) -- node[lbl, pos=0.5]{\#\$parent\_obj} (ilTable2GUI);
\draw[use] (ilGlobalTemplateInterface) -- node[lbl, pos=0.5]{\#\$main\_tpl} (ilTable2GUI.north east);
\draw[use] (ilGlobalTemplateInterface) -- node[lbl, pos=0.5]{\#\$global\_tpl} (ilFormPropertyGUI.east);
\draw[use] (ilGlobalTemplateInterface) -- node[lbl, pos=0.5]{\#\$global\_tpl} (ilFileWizardInputGUI.east);
\draw[use] (HTTP) -- node[lbl, pos=0.5]{\#\$http} (ilPropertyFormGUI);
\draw[use] (HTTP) -- node[lbl, pos=0.5]{\#\$http} (ilFormPropertyGUI);
\draw[use] (ilObjUser) -- node[lbl, pos=0.5]{\#\$user} (ilPropertyFormGUI.north east);
\draw[use] (ilObject) -- node[lbl, pos=0.5]{\#\$user} (ilObjUser);
\draw[use] (ilPropertyFormGUI) -- node[lbl, pos=0.5]{\#\$parentform} (ilFormPropertyGUI.north west);
\coordinate (loopa) at ([shift={(0.8,0.3)}]ilFormPropertyGUI.east);
\coordinate (loopb) at ([shift={(0.8,-0.3)}]ilFormPropertyGUI.east);
\draw[use] ([yshift=0.2cm]ilFormPropertyGUI.east) -- (loopa) -- node[lbl, right]{\#\$parent\_gui} (loopb) -- ([yshift=-0.2cm]ilFormPropertyGUI.east);
\end{pgfonlayer}
\end{tikzpicture}
\end{document}
